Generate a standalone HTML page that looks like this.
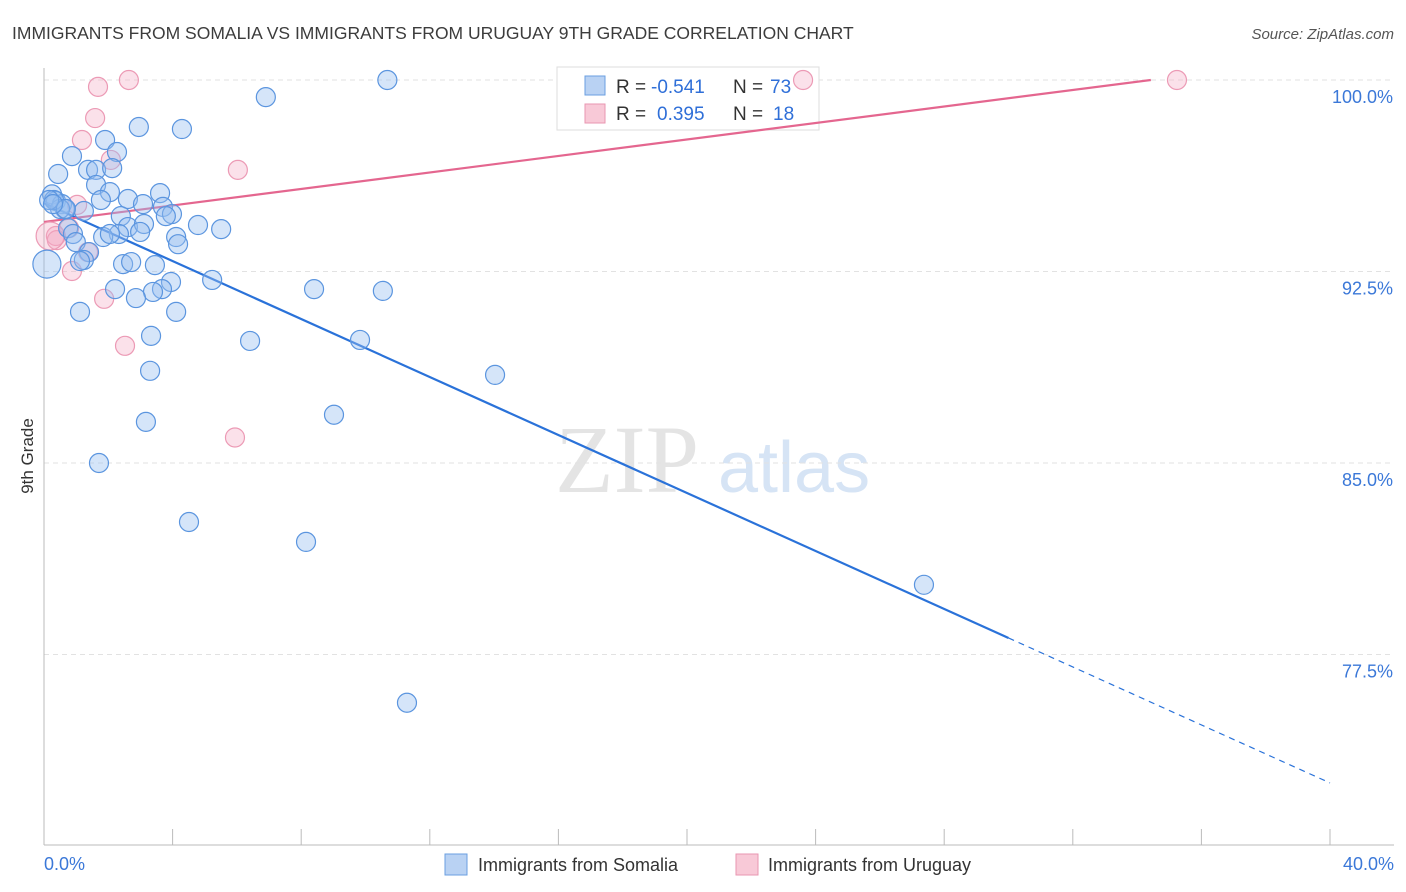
<!DOCTYPE html>
<html><head><meta charset="utf-8"><style>
body{margin:0;background:#fff;font-family:"Liberation Sans",sans-serif}
svg{display:block}
</style></head><body>
<svg id="chart" width="1406" height="892" xmlns="http://www.w3.org/2000/svg">
<text x="12" y="39" font-size="17.5" fill="#3c3c3c">IMMIGRANTS FROM SOMALIA VS IMMIGRANTS FROM URUGUAY 9TH GRADE CORRELATION CHART</text>
<text x="1394" y="39" font-size="15" fill="#555" text-anchor="end" font-style="italic">Source: ZipAtlas.com</text>
<text transform="translate(33,456) rotate(-90)" font-size="17" fill="#333" text-anchor="middle">9th Grade</text>
<g><text x="555" y="492" font-size="96" fill="#e4e4e4" font-family="Liberation Serif,serif">ZIP</text><text x="718" y="492" font-size="72" fill="#d6e4f5">atlas</text></g>
<g id="grid"></g><g id="axes"></g>
<g>
<rect x="557" y="67" width="262" height="63" fill="#fff" stroke="#ddd"/>
<rect x="585" y="76" width="20" height="19" fill="#b9d2f3" stroke="#6a9fe0"/>
<rect x="585" y="104" width="20" height="19" fill="#f8c9d7" stroke="#e996b0"/>
<text x="616" y="93" font-size="19" fill="#333">R =</text>
<text x="651" y="93" font-size="19" fill="#2f6fd8">-0.541</text>
<text x="733" y="93" font-size="19" fill="#333">N =</text>
<text x="770" y="93" font-size="19" fill="#2f6fd8">73</text>
<text x="616" y="120" font-size="19" fill="#333">R =</text>
<text x="657" y="120" font-size="19" fill="#2f6fd8">0.395</text>
<text x="733" y="120" font-size="19" fill="#333">N =</text>
<text x="773" y="120" font-size="19" fill="#2f6fd8">18</text>
</g>
<g id="lines"></g><g id="pts"></g>
<g>
<rect x="445" y="854" width="22" height="21" fill="#b9d2f3" stroke="#6a9fe0"/>
<text x="478" y="871" font-size="18" fill="#333">Immigrants from Somalia</text>
<rect x="736" y="854" width="22" height="21" fill="#f8c9d7" stroke="#e996b0"/>
<text x="768" y="871" font-size="18" fill="#333">Immigrants from Uruguay</text>
</g>
</svg>
<script>
const yTicks=[100,92.5,85,77.5];
const yTickLabels=["100.0%","92.5%","85.0%","77.5%"];
const xTickVals=[0,4,8,12,16,20,24,28,32,36,40];
const somaliaX=[10.68,6.9,2.95,4.29,1.9,2.27,0.87,1.37,1.62,2.12,0.44,1.62,2.05,0.25,3.61,2.61,1.77,0.37,0.56,3.08,0.65,1.24,3.7,3.98,2.39,3.79,4.79,5.51,2.61,3.11,0.75,2.99,2.33,0.9,1.84,4.11,4.17,0.99,1.4,1.24,1.12,2.46,2.71,3.45,0.09,5.23,3.95,2.21,3.67,3.39,2.86,8.4,10.54,1.12,4.11,3.33,6.41,9.83,3.3,14.03,9.02,3.17,1.71,4.51,8.15,27.37,11.29,0.5,0.31,0.16,0.68,2.05,0.28];
const somaliaY=[100,99.33,98.16,98.08,97.65,97.18,97.02,96.48,96.48,96.55,96.32,95.89,95.61,95.52,95.57,95.34,95.3,95.26,95.14,95.14,94.95,94.87,95.03,94.75,94.67,94.67,94.32,94.16,94.24,94.36,94.2,94.05,93.97,93.97,93.85,93.85,93.57,93.65,93.26,92.95,92.91,92.79,92.87,92.75,92.79,92.17,92.09,91.81,91.81,91.7,91.46,91.81,91.74,90.92,90.92,89.98,89.78,89.82,88.61,88.45,86.89,86.61,85.0,82.69,81.91,80.23,75.61,94.95,95.3,95.3,94.95,93.97,95.14];
const uruguayX=[2.64,23.61,35.24,1.68,1.59,1.18,2.08,6.03,1.03,0.78,0.37,0.4,1.37,0.87,1.87,2.52,5.94,0.19];
const uruguayY=[100,100,100,99.73,98.51,97.65,96.87,96.48,95.11,94.2,93.89,93.73,93.26,92.52,91.43,89.59,86.0,93.89];
const somaliaR=[9.5,9.5,9.5,9.5,9.5,9.5,9.5,9.5,9.5,9.5,9.5,9.5,9.5,9.5,9.5,9.5,9.5,9.5,9.5,9.5,9.5,9.5,9.5,9.5,9.5,9.5,9.5,9.5,9.5,9.5,9.5,9.5,9.5,9.5,9.5,9.5,9.5,9.5,9.5,9.5,9.5,9.5,9.5,9.5,14,9.5,9.5,9.5,9.5,9.5,9.5,9.5,9.5,9.5,9.5,9.5,9.5,9.5,9.5,9.5,9.5,9.5,9.5,9.5,9.5,9.5,9.5,9.5,9.5,9.5,9.5,9.5,9.5];
const uruguayR=[9.5,9.5,9.5,9.5,9.5,9.5,9.5,9.5,9.5,9.5,9.5,9.5,9.5,9.5,9.5,9.5,9.5,14];
const somaliaFit=[95.18,72.47];
const uruguayFit=[94.44,100.9];
const NS="http://www.w3.org/2000/svg";
const X=v=>44+v/40*1286, Y=v=>80+(100-v)/7.5*191.5;
function mk(tag,attrs,parent){const e=document.createElementNS(NS,tag);for(const k in attrs)e.setAttribute(k,attrs[k]);document.getElementById(parent).appendChild(e);return e;}
yTicks.forEach((t,i)=>{
 const l=mk('line',{x1:44,x2:1394,y1:Y(t),y2:Y(t),stroke:'#e2e2e2','stroke-dasharray':'5,4'},'grid');
 
 
 const tx=mk('text',{x:1393,y:Y(t)+23,'font-size':18,fill:'#3b78d8','text-anchor':'end'},'axes');
 tx.textContent=yTickLabels[i];
 
 
});
const ax=mk('line',{x1:44,x2:44,y1:68,y2:845,stroke:'#bbb'},'axes');


const bx=mk('line',{x1:44,x2:1394,y1:845,y2:845,stroke:'#bbb'},'axes');


xTickVals.forEach(v=>{
 const t=mk('line',{x1:X(v),x2:X(v),y1:829,y2:845,stroke:'#bbb'},'axes');
 
 
});
const xl0=mk('text',{x:44,y:870,'font-size':18,fill:'#3b78d8'},'axes');xl0.textContent=xTickVals[0].toFixed(1)+'%';


const xl1=mk('text',{x:1394,y:870,'font-size':18,fill:'#3b78d8','text-anchor':'end'},'axes');xl1.textContent=xTickVals[xTickVals.length-1].toFixed(1)+'%';


uruguayX.forEach((v,i)=>{
 const c=mk('circle',{cx:X(v),cy:Y(uruguayY[i]),r:uruguayR[i],fill:'rgba(244,170,195,0.35)',stroke:'#ec9ab5','stroke-width':1.2},'pts');
 
 
});
somaliaX.forEach((v,i)=>{
 const c=mk('circle',{cx:X(v),cy:Y(somaliaY[i]),r:somaliaR[i],fill:'rgba(150,190,240,0.4)',stroke:'#5b95df','stroke-width':1.2},'pts');
 
 
});
const sAt=x=>somaliaFit[0]+(somaliaFit[1]-somaliaFit[0])*x/40;
const s1=mk('line',{x1:X(0),y1:Y(sAt(0)),x2:X(30),y2:Y(sAt(30)),stroke:'#2a72d9','stroke-width':2.2},'lines');


const s2=mk('line',{x1:X(30),y1:Y(sAt(30)),x2:X(40),y2:Y(sAt(40)),stroke:'#2a72d9','stroke-width':1.2,'stroke-dasharray':'6,5'},'lines');


const uAt=x=>uruguayFit[0]+(uruguayFit[1]-uruguayFit[0])*x/40;
const xEnd=40*(100-uruguayFit[0])/(uruguayFit[1]-uruguayFit[0]);
const u1=mk('line',{x1:X(0),y1:Y(uAt(0)),x2:X(xEnd),y2:Y(100),stroke:'#e4668f','stroke-width':2.2},'lines');


</script>
</body></html>
